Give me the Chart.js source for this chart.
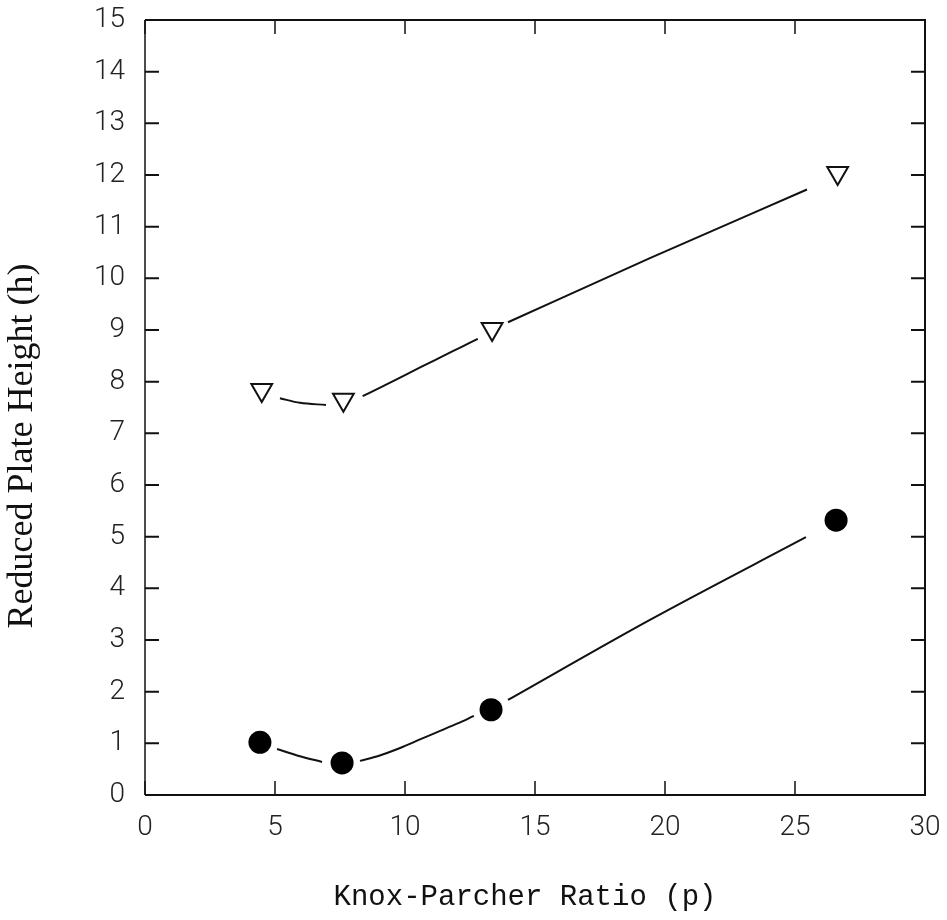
<!DOCTYPE html>
<html>
<head>
<meta charset="utf-8">
<script src="https://cdn.jsdelivr.net/npm/chart.js@4/dist/chart.umd.min.js"></script>
<style>
  html, body { margin: 0; padding: 0; background: #fff; }
  #wrap { width: 947px; height: 920px; }
</style>
</head>
<body>
<div id="wrap"><canvas id="c" width="947" height="920"></canvas></div>
<script>
const triX = [4.49, 7.63, 13.35, 26.64];
const triY = [7.84, 7.65, 9.02, 12.04];
const dotX = [4.42, 7.58, 13.31, 26.58];
const dotY = [1.02, 0.62, 1.65, 5.32];

// Fitted curves (null = gap around a marker)
const triCurveX = [5.19, 5.96, 6.96, 7.5, 8.37, 9.1, 9.81, 10.6, 11.4, 12.2, 12.8, 13.0, 13.96, 19.42, 25.46];
const triCurveY = [7.68, 7.59, 7.55, null, 7.72, 7.90, 8.08, 8.28, 8.48, 8.68, 8.83, null, 9.15, 10.39, 11.72];
const dotCurveX = [5.08, 5.96, 6.81, 7.5, 8.27, 9.0, 9.81, 10.6, 11.35, 12.0, 12.65, 13.3, 13.96, 19.42, 25.42];
const dotCurveY = [0.89, 0.75, 0.64, null, 0.66, 0.76, 0.91, 1.08, 1.24, 1.38, 1.53, null, 1.84, 3.39, 4.99];

const xTickValues = [0, 5, 10, 15, 20, 25, 30];
const yTickValues = [0,1,2,3,4,5,6,7,8,9,10,11,12,13,14,15];

const xTitle = 'Knox-Parcher Ratio (p)';
const yTitle = 'Reduced Plate Height (h)';

const pts = (xs, ys) => xs.map((x, i) => ({ x: x, y: ys[i] }));

const frameTicks = {
  id: 'frameTicks',
  afterDraw(chart) {
    const { ctx, chartArea: a, scales } = chart;
    ctx.save();
    ctx.strokeStyle = '#111';
    ctx.lineWidth = 2;
    ctx.beginPath();
    ctx.moveTo(a.left, a.top); ctx.lineTo(a.right, a.top);
    ctx.lineTo(a.right, a.bottom); ctx.lineTo(a.left, a.bottom);
    ctx.stroke();
    ctx.lineWidth = 1.5;
    ctx.beginPath();
    ctx.moveTo(a.left, a.bottom); ctx.lineTo(a.left, a.top);
    ctx.stroke();
    const L = 14;
    ctx.lineWidth = 2;
    ctx.beginPath();
    yTickValues.forEach(v => {
      const py = scales.y.getPixelForValue(v);
      ctx.moveTo(a.left, py); ctx.lineTo(a.left + L, py);
      ctx.moveTo(a.right, py); ctx.lineTo(a.right - L, py);
    });
    ctx.stroke();
    ctx.lineWidth = 1.5;
    ctx.beginPath();
    xTickValues.forEach(v => {
      const px = scales.x.getPixelForValue(v);
      ctx.moveTo(px, a.bottom); ctx.lineTo(px, a.bottom - L);
      ctx.moveTo(px, a.top); ctx.lineTo(px, a.top + L);
    });
    ctx.stroke();

    // axis titles (text taken from the scale options)
    ctx.fillStyle = '#111';
    ctx.textAlign = 'center';
    ctx.textBaseline = 'alphabetic';
    ctx.font = '29px "Liberation Mono"';
    ctx.fillText(scales.x.options.title.text, 525, 905);
    ctx.translate(32, 446);
    ctx.rotate(-Math.PI / 2);
    ctx.font = '36px "Liberation Serif"';
    ctx.fillText(scales.y.options.title.text, 0, 0);
    ctx.restore();
  }
};

new Chart(document.getElementById('c'), {
  type: 'scatter',
  data: {
    datasets: [
      {
        label: 'tri',
        data: pts(triX, triY),
        pointStyle: 'triangle',
        rotation: 180,
        pointRadius: 12,
        pointBackgroundColor: '#fff',
        pointBorderColor: '#111',
        pointBorderWidth: 2,
        showLine: false,
        order: 0
      },
      {
        label: 'dot',
        data: pts(dotX, dotY),
        pointStyle: 'circle',
        pointRadius: 11.5,
        pointBackgroundColor: '#000',
        pointBorderColor: '#000',
        pointBorderWidth: 0,
        showLine: false,
        order: 0
      },
      {
        label: 'triFit',
        data: pts(triCurveX, triCurveY),
        showLine: true,
        spanGaps: false,
        borderColor: '#111',
        borderWidth: 2,
        pointRadius: 0,
        cubicInterpolationMode: 'monotone',
        order: 1
      },
      {
        label: 'dotFit',
        data: pts(dotCurveX, dotCurveY),
        showLine: true,
        spanGaps: false,
        borderColor: '#111',
        borderWidth: 2,
        pointRadius: 0,
        cubicInterpolationMode: 'monotone',
        order: 1
      }
    ]
  },
  options: {
    responsive: false,
    animation: false,
    devicePixelRatio: 1,
    layout: { padding: { top: 20, right: 22, left: 0, bottom: 0 } },
    plugins: { legend: { display: false }, tooltip: { enabled: false } },
    scales: {
      x: {
        type: 'linear',
        min: 0, max: 30,
        afterBuildTicks: s => { s.ticks = xTickValues.map(v => ({ value: v })); },
        afterFit: s => { s.height = 125; s.paddingLeft = 0; s.paddingRight = 0; },
        ticks: {
          padding: 16,
          color: '#222',
          font: { family: 'Roboto', weight: '300', size: 28 }
        },
        grid: { display: false, drawTicks: false, drawOnChartArea: false },
        border: { display: false },
        title: { display: false, text: xTitle }
      },
      y: {
        type: 'linear',
        min: 0, max: 15,
        afterBuildTicks: s => { s.ticks = yTickValues.map(v => ({ value: v })); },
        afterFit: s => { s.width = 145; s.paddingTop = 0; s.paddingBottom = 0; },
        ticks: {
          padding: 20,
          color: '#222',
          font: { family: 'Roboto', weight: '300', size: 28 }
        },
        grid: { display: false, drawTicks: false, drawOnChartArea: false },
        border: { display: false },
        title: { display: false, text: yTitle }
      }
    }
  },
  plugins: [frameTicks]
});
</script>
</body>
</html>
